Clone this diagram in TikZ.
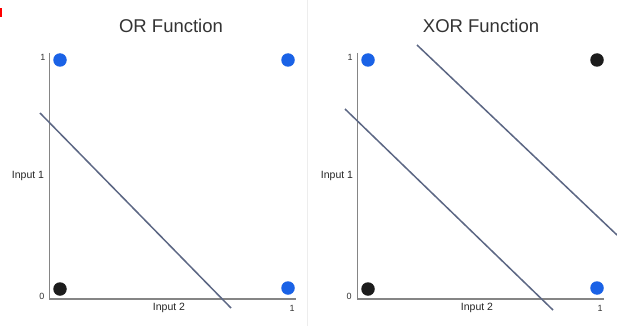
\documentclass[tikz,border=0pt]{standalone}
\usepackage{fontspec}
\setmainfont{Liberation Sans}
\definecolor{dotblue}{HTML}{1A62E6}
\definecolor{dotblack}{HTML}{1C1C1C}
\definecolor{axisgray}{HTML}{858585}
\definecolor{sepline}{HTML}{5C6784}
\definecolor{panelsep}{HTML}{EDEDED}
\tikzset{
  axisline/.style={draw=axisgray, line width=1.8pt},
  sepl/.style={draw=sepline, line width=1.5pt},
  bluedot/.style={circle, fill=dotblue, inner sep=0pt, minimum size=13.5pt},
  blackdot/.style={circle, fill=dotblack, inner sep=0pt, minimum size=13.5pt},
  titletxt/.style={inner sep=0pt, text=black!80, font=\fontsize{18.5}{20}\selectfont},
  axtxt/.style={inner sep=0pt, text=black!85, font=\fontsize{10.5}{12}\selectfont},
  ticktxt/.style={inner sep=0pt, text=black!80, font=\fontsize{9}{10}\selectfont}
}
\begin{document}
\begin{tikzpicture}[x=1pt,y=-1pt]
\useasboundingbox (0,0) rectangle (617,326);
\fill[white] (0,0) rectangle (617,326);
\fill[red] (0,8) rectangle (2,17);
\draw[panelsep, line width=1pt] (307.5,0) -- (307.5,326);

% ---------- OR panel ----------
\node[titletxt] (t1) at (171,26) {OR Function};
\coordinate (a1top) at (49.5,53);
\coordinate (a1org) at (49.5,299);
\coordinate (a1end) at (296,299);
\draw[axisline] (a1top) -- (a1org) -- (a1end);
\node[ticktxt] (o1y1) at (43,57) {1};
\node[ticktxt] (o1y0) at (42,296) {0};
\node[axtxt] (o1in1) at (28,176) {Input 1};
\node[axtxt] (o1in2) at (169,308) {Input 2};
\node[ticktxt] (o1x1) at (292,308) {1};
\node[bluedot] (or01) at (60,60) {};
\node[bluedot] (or11) at (288,60) {};
\node[blackdot] (or00) at (60,289) {};
\node[bluedot] (or10) at (288,288) {};
\coordinate (l1s) at (40,113);
\coordinate (l1e) at (231,308);
\draw[sepl] (l1s) -- (l1e);

% ---------- XOR panel ----------
\node[titletxt] (t2) at (481,26) {XOR Function};
\coordinate (a2top) at (357.5,53);
\coordinate (a2org) at (357.5,299);
\coordinate (a2end) at (604,299);
\draw[axisline] (a2top) -- (a2org) -- (a2end);
\node[ticktxt] (x1y1) at (350,57) {1};
\node[ticktxt] (x1y0) at (349,296) {0};
\node[axtxt] (x1in1) at (337,176) {Input 1};
\node[axtxt] (x1in2) at (477,308) {Input 2};
\node[ticktxt] (x1x1) at (600,308) {1};
\node[bluedot] (xr01) at (368,60) {};
\node[blackdot] (xr11) at (597,60) {};
\node[blackdot] (xr00) at (368,289) {};
\node[bluedot] (xr10) at (597,288) {};
\coordinate (l2s) at (345,109);
\coordinate (l2e) at (553,310);
\draw[sepl] (l2s) -- (l2e);
\coordinate (l3s) at (417,45);
\coordinate (l3e) at (617,235);
\draw[sepl] (l3s) -- (l3e);
\end{tikzpicture}
\end{document}
